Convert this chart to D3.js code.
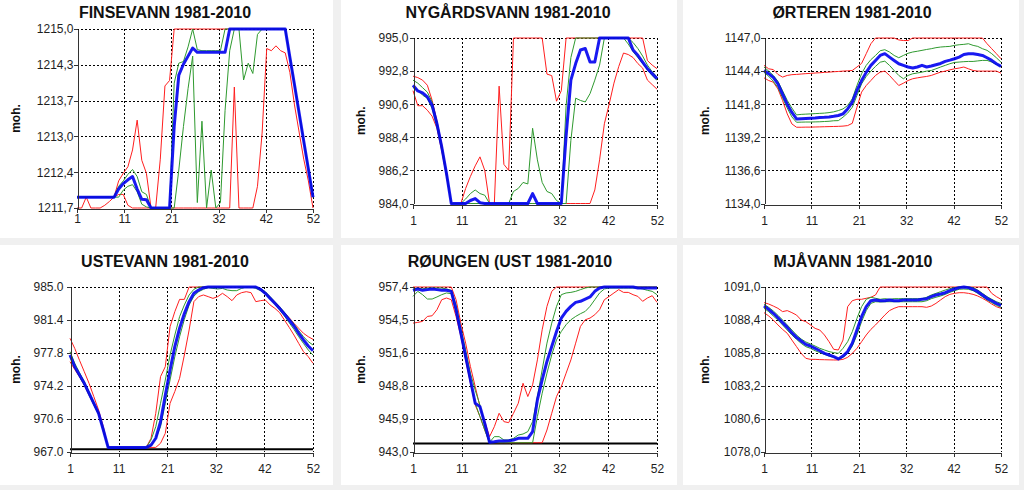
<!DOCTYPE html>
<html><head><meta charset="utf-8">
<script src="https://cdn.jsdelivr.net/npm/d3@7"></script>
<style>
html,body{margin:0;padding:0;background:#f0f0f0;}
svg{display:block;}
</style></head><body>
<svg id="c" width="1024" height="490"></svg>
<script>
// ---------- DATA ----------
const weeks = d3.range(1, 53);
const xTickValues = [1, 11.2, 21.4, 31.6, 41.8, 52];
const xTickLabels = ["1", "11", "21", "32", "42", "52"];
const yAxisTitle = "moh.";
const titles = ["FINSEVANN 1981-2010", "NYGÅRDSVANN 1981-2010", "ØRTEREN 1981-2010",
                "USTEVANN 1981-2010", "RØUNGEN (UST 1981-2010", "MJÅVANN 1981-2010"];

// y ticks per chart
const finsevannYTicks = [1211.7, 1212.36, 1213.02, 1213.68, 1214.34, 1215.0];
const finsevannYLabels = ["1211,7", "1212,4", "1213,0", "1213,7", "1214,3", "1215,0"];
const nygardsvannYTicks = [984.0, 986.2, 988.4, 990.6, 992.8, 995.0];
const nygardsvannYLabels = ["984,0", "986,2", "988,4", "990,6", "992,8", "995,0"];
const orterenYTicks = [1134.0, 1136.6, 1139.2, 1141.8, 1144.4, 1147.0];
const orterenYLabels = ["1134,0", "1136,6", "1139,2", "1141,8", "1144,4", "1147,0"];
const ustevannYTicks = [967.0, 970.6, 974.2, 977.8, 981.4, 985.0];
const ustevannYLabels = ["967.0", "970.6", "974.2", "977.8", "981.4", "985.0"];
const roungenYTicks = [943.0, 945.88, 948.76, 951.64, 954.52, 957.4];
const roungenYLabels = ["943,0", "945,9", "948,8", "951,6", "954,5", "957,4"];
const mjavannYTicks = [1078.0, 1080.6, 1083.2, 1085.8, 1088.4, 1091.0];
const mjavannYLabels = ["1078,0", "1080,6", "1083,2", "1085,8", "1088,4", "1091,0"];

// reference (black) lines
const ustevannRef = 967.3;
const roungenRef = 943.75;

// FINSEVANN
const finsevannMax = [1211.9,1211.9,1211.9,1211.9,1211.9,1211.9,1211.9,1211.9,1211.9,1212.2,1212.34,1212.46,1212.77,
 1213.32,1212.58,1212.34,1211.7,1211.7,1212.6,1213.95,1214.05,1215,1215,1215,1215,1215,
 1215,1215,1215,1215,1215,1215,1215,1215,1215,1215,1215,1215,1215,
 1215,1215,1215,1215,1215,1215,1215,1214.48,1213.97,1213.45,1212.93,1212.42,1211.9];
const finsevannP75 = [1211.9,1211.9,1211.9,1211.9,1211.9,1211.9,1211.9,1211.9,1211.9,1212.1,1212.2,1212.32,1212.41,
 1212.28,1212.0,1211.95,1211.7,1211.7,1211.7,1211.7,1211.7,1214.0,1214.37,1214.4,1214.67,1215,
 1214.62,1214.6,1214.6,1214.6,1214.6,1214.6,1215,1215,1215,1215,1215,1215,1215,
 1215,1215,1215,1215,1215,1215,1215,1214.48,1213.97,1213.45,1212.93,1212.42,1211.9];
const finsevannMedian = [1211.9,1211.9,1211.9,1211.9,1211.9,1211.9,1211.9,1211.9,1211.9,1212.05,1212.15,1212.22,1212.28,
 1212.05,1211.86,1211.85,1211.7,1211.7,1211.7,1211.7,1211.7,1213.2,1214.15,1214.35,1214.5,1214.65,
 1214.57,1214.57,1214.57,1214.57,1214.57,1214.57,1214.57,1215,1215,1215,1215,1215,1215,
 1215,1215,1215,1215,1215,1215,1215,1214.48,1213.97,1213.45,1212.93,1212.42,1211.9];
const finsevannP25 = [1211.9,1211.9,1211.9,1211.9,1211.9,1211.9,1211.9,1211.9,1211.9,1211.9,1212.03,1212.1,1212.13,
 1212.0,1211.77,1211.72,1211.7,1211.7,1211.7,1211.7,1211.7,1211.7,1212.4,1213.2,1213.9,1214.5,
 1211.8,1213.3,1211.7,1212.4,1211.7,1211.8,1213.5,1214.6,1215,1215,1214.06,1214.37,1214.18,
 1214.9,1215,1215,1215,1215,1215,1215,1214.48,1213.97,1213.45,1212.93,1212.42,1211.9];
const finsevannMin = [1211.7,1211.7,1211.9,1211.7,1211.7,1211.7,1211.75,1211.82,1211.9,1211.95,1211.95,1211.75,1211.7,
 1211.7,1211.7,1211.7,1211.7,1211.7,1211.7,1211.7,1211.7,1211.7,1211.7,1211.7,1211.7,1211.7,
 1211.7,1211.7,1211.7,1211.7,1211.7,1211.7,1211.7,1211.7,1213.93,1211.7,1211.7,1211.7,1211.7,
 1212.1,1213.08,1214.64,1214.6,1214.69,1214.6,1214.56,1214.2,1213.6,1213.1,1212.6,1212.2,1211.7];

// NYGÅRDSVANN
const nygardsvannMax = [992.46,992.37,992.2,991.86,990.86,989.5,987.95,986.1,984,984,984,985.0,985.8,
 986.5,987.1,986.2,984.0,984.0,991.8,986.6,986.2,995,995,995,995,995,
 995,995,992.6,992.5,990.8,991.5,995,995,995,995,995,995,995,
 995,995,995,995,995,995,995,995,995,995,993.5,993.2,992.96];
const nygardsvannP75 = [992.2,992.0,991.7,991.4,990.75,989.4,987.8,986.1,984,984,984,984.3,984.66,
 984.9,984.66,984.55,984,984,984,984,984,984.8,985.0,985.4,985.3,989.0,
 986.9,985.4,984.8,984.66,984.2,984.0,990.5,993.7,995,995,995,995,995,
 995,995,995,995,995,995,995,994.7,994.3,993.8,993.2,992.75,992.4];
const nygardsvannMedian = [991.86,991.48,991.35,991.08,990.53,989.31,987.77,985.99,984,984,984,984,984.2,
 984.33,984.05,984,984,984,984,984,984,984,984,984,984,984.66,
 984,984,984,984,984,984,988.5,992.2,993.3,994.2,994.3,993.4,993.4,
 995,995,995,995,995,995,995,994.2,993.85,993.4,992.96,992.63,992.3];
const nygardsvannP25 = [991.7,991.55,991.2,991.0,990.3,989.1,987.6,985.9,984,984,984,984,984,
 984,984,984,984,984,984,984,984,984,984,984,984,984,
 984,984,984,984,984,984,984,988.2,991.0,990.85,990.75,991.3,992.2,
 993.2,995,995,995,995,995,994.6,994.1,993.7,993.3,992.9,992.5,992.2];
const nygardsvannMin = [991.5,990.5,990.5,990.2,989.8,989.0,987.5,985.8,984,984,984,984,984,
 984,984,984,984,984,984,984,984,984,984,984,984,984,
 984,984,984,984,984,984,984,984,984,984,984,984,984.9,
 986.9,989.3,990.6,992.0,993.1,994.0,993.9,993.7,993.3,993.0,992.2,991.9,991.6];

// ØRTEREN
const orterenMax = [1144.85,1144.58,1144.52,1144.14,1143.93,1144.06,1144.12,1144.14,1144.17,1144.2,1144.22,1144.25,1144.27,
 1144.3,1144.32,1144.35,1144.37,1144.4,1144.42,1144.45,1144.72,1145.0,1145.77,1146.55,1147,1147,
 1147,1147,1147,1146.85,1146.8,1146.8,1147,1147,1147,1147,1147,1147,1147,
 1147,1147,1147,1147,1147,1147,1147,1147,1147,1146.55,1146.16,1145.77,1145.37];
const orterenP75 = [1144.72,1144.4,1144.06,1143.6,1142.85,1142.1,1141.5,1140.96,1141.0,1141.02,1141.04,1141.06,1141.08,
 1141.1,1141.14,1141.2,1141.3,1141.43,1141.7,1142.22,1143.27,1144.2,1144.85,1145.3,1145.63,1146.0,
 1146.08,1145.9,1145.63,1145.45,1145.63,1145.8,1145.9,1145.96,1146.03,1146.1,1146.16,1146.24,1146.29,
 1146.32,1146.34,1146.42,1146.47,1146.5,1146.55,1146.42,1146.34,1146.16,1146.03,1145.77,1145.45,1145.1];
const orterenMedian = [1144.45,1144.2,1143.9,1143.4,1142.6,1141.8,1141.15,1140.64,1140.66,1140.68,1140.7,1140.72,1140.75,
 1140.77,1140.8,1140.85,1140.91,1141.04,1141.43,1141.96,1142.88,1143.66,1144.3,1144.85,1145.24,1145.63,
 1145.77,1145.5,1145.24,1144.98,1144.85,1144.72,1144.64,1144.72,1144.85,1144.72,1144.8,1144.9,1145.0,
 1145.16,1145.26,1145.37,1145.5,1145.7,1145.77,1145.77,1145.7,1145.63,1145.45,1145.24,1144.98,1144.77];
const orterenP25 = [1144.3,1144.0,1143.6,1143.1,1142.3,1141.5,1140.8,1140.38,1140.39,1140.4,1140.4,1140.41,1140.42,
 1140.44,1140.46,1140.5,1140.51,1140.78,1141.1,1141.56,1142.48,1143.4,1143.98,1144.4,1144.77,1145.1,
 1145.18,1144.85,1144.45,1144.06,1143.8,1144.06,1144.19,1144.25,1144.32,1144.4,1144.45,1144.58,1144.72,
 1144.85,1144.98,1145.08,1145.11,1145.14,1145.16,1145.16,1145.2,1145.24,1145.24,1145.11,1144.93,1144.77];
const orterenMin = [1143.87,1143.66,1143.53,1143.0,1142.09,1141.04,1140.25,1139.99,1139.99,1140.0,1140.0,1140.01,1140.02,
 1140.03,1140.04,1140.05,1140.06,1140.08,1140.12,1140.3,1141.56,1142.75,1143.27,1143.66,1144.06,1144.32,
 1144.4,1144.06,1143.66,1143.27,1143.45,1143.66,1143.8,1143.87,1143.93,1143.98,1144.06,1144.19,1144.32,
 1144.4,1144.5,1144.58,1144.64,1144.72,1144.58,1144.45,1144.4,1144.4,1144.4,1144.4,1144.4,1144.24];

// USTEVANN
const ustevannMax = [979.4,978.3,977.0,975.76,974.49,973.04,971.58,969.76,967.5,967.5,967.5,967.5,967.5,
 967.5,967.5,967.5,967.5,968.49,971.22,975.22,976.31,980.67,982.31,983.65,983.65,985,
 985,985,985,985,985,985,985,985,985,985,985,985,985,
 985,984.75,984.38,983.87,983.29,982.75,982.2,981.65,981.04,980.49,979.95,979.58,979.29];
const ustevannP75 = [977.95,976.67,975.65,974.67,973.58,972.42,971.29,969.47,967.5,967.5,967.5,967.5,967.5,
 967.5,967.5,967.5,967.5,968.31,969.76,972.31,974.85,977.58,979.76,981.76,983.04,984.13,
 984.75,985,985,985,985,985,985,985,985,985,985,985,985,
 985,984.82,984.49,983.95,983.4,982.85,982.24,981.58,980.96,980.24,979.58,979.04,978.67];
const ustevannMedian = [977.58,976.31,975.4,974.49,973.4,972.31,971.22,969.4,967.5,967.5,967.5,967.5,967.5,
 967.5,967.5,967.5,967.5,967.75,968.5,970.3,973.2,975.95,978.5,980.5,982.1,983.4,
 984.31,984.67,984.93,985,985,985,985,985,985,985,985,985,985,
 985,984.75,984.31,983.76,983.22,982.67,982.05,981.4,980.75,979.95,979.22,978.56,978.05];
const ustevannP25 = [977.4,976.16,975.22,974.31,973.22,972.13,971.11,969.33,967.5,967.5,967.5,967.5,967.5,
 967.5,967.5,967.5,967.5,967.65,968.49,969.76,972.31,974.85,977.4,979.58,981.47,983.04,
 984.0,984.49,984.75,984.93,984.85,984.78,984.85,984.67,984.6,984.6,984.85,985,985,
 984.85,984.6,984.24,983.7,983.11,982.49,981.84,981.11,980.38,979.58,978.85,978.13,977.58];
const ustevannMin = [976.85,976.0,975.2,974.3,973.2,972.2,971.1,969.2,967.5,967.5,967.5,967.5,967.5,
 967.5,967.5,967.5,967.5,967.5,967.5,967.95,969.04,972.31,973.6,975.04,977.58,980.31,
 983.4,983.95,984.13,983.95,983.76,983.95,984.31,983.95,983.51,984.13,984.38,984.49,984.38,
 983.4,983.51,983.58,983.04,982.67,982.2,981.4,980.6,979.76,978.85,977.95,977.4,976.67];

// RØUNGEN
const roungenMax = [957.4,957.4,957.4,957.4,957.4,957.4,957.4,957.4,957.4,956.29,954.25,952.5,950.46,
 948.71,946.96,945.65,944.34,945.21,946.38,945.65,945.56,946.38,947.25,949.0,947.84,948.86,
 951.04,953.67,955.71,957.02,957.4,957.4,957.4,957.4,957.4,957.4,957.4,957.4,957.4,
 957.4,957.4,957.4,957.4,957.4,957.4,957.4,957.4,957.4,957.4,957.4,957.4,957.4];
const roungenP75 = [957.23,957.31,957.23,957.31,957.31,957.31,957.31,957.23,957.11,955.85,953.81,951.92,949.88,
 948.4,947.1,945.21,943.85,944.34,944.34,944.05,944.05,944.19,944.48,944.57,944.78,945.65,
 947.84,950.17,952.5,954.25,955.71,956.73,956.88,956.93,957.02,957.17,957.31,957.4,957.4,
 957.4,957.4,957.4,957.4,957.4,957.4,957.4,957.4,957.4,957.4,957.4,957.4,957.4];
const roungenMedian = [957.11,957.23,957.11,957.17,957.23,957.17,957.11,957.11,957.02,955.42,953.38,951.34,949.3,
 947.25,946.96,945.5,943.85,943.9,943.96,943.96,943.99,944.05,944.19,944.19,944.19,944.78,
 947.55,949.3,950.9,952.21,953.52,954.69,955.27,955.71,956.06,956.15,956.35,956.53,957.02,
 957.31,957.4,957.4,957.4,957.4,957.4,957.4,957.4,957.31,957.31,957.31,957.31,957.31];
const roungenP25 = [956.58,957.02,956.73,956.35,956.35,956.53,956.73,956.88,956.82,955.27,953.23,951.19,949.15,
 947.25,946.09,944.92,943.81,943.81,943.81,943.81,943.81,943.81,943.81,943.81,943.81,943.81,
 946.09,948.13,949.88,951.48,952.79,953.52,954.11,954.54,954.83,955.07,955.27,955.71,956.29,
 956.88,957.23,957.31,957.31,957.31,957.31,957.31,957.31,957.31,957.23,957.11,957.02,956.73];
const roungenMin = [954.25,954.31,954.4,954.83,954.89,955.42,956.29,956.44,956.29,954.83,953.09,951.04,949.0,
 947.11,946.09,944.92,943.81,943.81,943.81,943.81,943.81,943.81,943.81,943.81,943.81,943.81,
 943.81,943.81,944.92,946.38,947.84,948.71,949.88,951.04,952.5,953.96,954.54,954.69,954.98,
 955.42,956.29,956.58,956.88,957.17,956.93,956.93,956.73,956.58,956.15,956.44,956.64,956.06];

// MJÅVANN
const mjavannMax = [1089.77,1089.66,1089.5,1089.32,1089.06,1089.14,1088.98,1088.79,1088.4,1088.27,1088.01,1087.74,1087.61,
 1087.22,1086.69,1086.09,1086.04,1086.82,1089.45,1089.92,1090.03,1090.03,1090.11,1090.19,1090.37,1091,
 1091,1091,1091,1091,1091,1091,1091,1091,1091,1091,1091,1091,1091,
 1091,1091,1091,1091,1091,1091,1091,1091,1091,1091,1090.5,1090.24,1090.03];
const mjavannP75 = [1089.63,1089.4,1089.11,1088.77,1088.4,1088.01,1087.61,1087.22,1086.9,1086.67,1086.51,1086.35,1086.17,
 1086.04,1085.91,1085.83,1085.77,1086.17,1086.69,1087.48,1088.53,1089.45,1090.03,1090.19,1090.11,1090.03,
 1090.08,1090.03,1090.08,1090.08,1090.08,1090.08,1090.08,1090.08,1090.08,1090.19,1090.37,1090.5,1090.63,
 1090.76,1090.87,1090.95,1091,1091,1091,1090.95,1090.76,1090.5,1090.24,1090.03,1089.84,1089.71];
const mjavannMedian = [1089.5,1089.24,1088.93,1088.58,1088.19,1087.82,1087.4,1087.03,1086.75,1086.48,1086.35,1086.17,1085.98,
 1085.77,1085.64,1085.51,1085.33,1085.56,1085.91,1086.56,1087.61,1088.66,1089.45,1089.92,1089.98,1089.92,
 1089.92,1089.98,1089.92,1089.92,1089.98,1089.98,1089.98,1089.98,1090.03,1090.08,1090.24,1090.37,1090.45,
 1090.55,1090.71,1090.84,1090.95,1091.0,1090.95,1090.82,1090.63,1090.37,1090.11,1089.92,1089.71,1089.56];
const mjavannP25 = [1089.32,1089.06,1088.72,1088.4,1088.01,1087.61,1087.22,1086.88,1086.56,1086.3,1086.17,1085.98,1085.83,
 1085.7,1085.56,1085.46,1085.33,1085.46,1085.77,1086.35,1087.22,1088.27,1089.14,1089.71,1089.84,1089.82,
 1089.84,1089.84,1089.84,1089.84,1089.84,1089.84,1089.84,1089.84,1089.84,1089.92,1090.08,1090.19,1090.29,
 1090.42,1090.58,1090.71,1090.82,1090.84,1090.82,1090.71,1090.5,1090.24,1089.98,1089.77,1089.56,1089.4];
const mjavannMin = [1088.98,1088.72,1088.4,1088.01,1087.66,1087.35,1086.82,1086.3,1085.77,1085.38,1085.3,1085.3,1085.28,
 1085.27,1085.26,1085.25,1085.25,1085.3,1085.46,1085.77,1086.17,1086.69,1087.22,1087.66,1088.01,1088.4,
 1088.79,1089.14,1089.32,1089.45,1089.45,1089.45,1089.45,1089.45,1089.45,1089.4,1089.5,1089.71,1089.98,
 1090.24,1090.42,1090.5,1090.55,1090.55,1090.5,1090.42,1090.29,1090.11,1089.9,1089.66,1089.45,1089.32];

// ---------- CHART ASSEMBLY ----------
const charts = [
  {title: titles[0], yTicks: finsevannYTicks, yLabels: finsevannYLabels, ref: null,
   series: [finsevannMax, finsevannMin, finsevannP75, finsevannP25, finsevannMedian]},
  {title: titles[1], yTicks: nygardsvannYTicks, yLabels: nygardsvannYLabels, ref: null,
   series: [nygardsvannMax, nygardsvannMin, nygardsvannP75, nygardsvannP25, nygardsvannMedian]},
  {title: titles[2], yTicks: orterenYTicks, yLabels: orterenYLabels, ref: null,
   series: [orterenMax, orterenMin, orterenP75, orterenP25, orterenMedian]},
  {title: titles[3], yTicks: ustevannYTicks, yLabels: ustevannYLabels, ref: ustevannRef,
   series: [ustevannMax, ustevannMin, ustevannP75, ustevannP25, ustevannMedian]},
  {title: titles[4], yTicks: roungenYTicks, yLabels: roungenYLabels, ref: roungenRef,
   series: [roungenMax, roungenMin, roungenP75, roungenP25, roungenMedian]},
  {title: titles[5], yTicks: mjavannYTicks, yLabels: mjavannYLabels, ref: null,
   series: [mjavannMax, mjavannMin, mjavannP75, mjavannP25, mjavannMedian]}
];

// layout (positions only)
const layout = [
  {bx: 0,   by: 0,   bw: 333, bh: 238, l: 77,  r: 313,  t: 29,  b: 208,   tx: 165, ty: 18,  ax: 20,  ygap: 4, xgap: 14.5},
  {bx: 341, by: 0,   bw: 336, bh: 238, l: 413, r: 657,  t: 38,  b: 203.5, tx: 508, ty: 18,  ax: 365, ygap: 5, xgap: 20},
  {bx: 683, by: 0,   bw: 336, bh: 238, l: 764, r: 1001, t: 38,  b: 203.5, tx: 852, ty: 18,  ax: 709, ygap: 4, xgap: 20},
  {bx: 0,   by: 245, bw: 333, bh: 240, l: 70,  r: 313,  t: 287, b: 452,   tx: 165, ty: 267, ax: 20,  ygap: 7, xgap: 20},
  {bx: 341, by: 245, bw: 336, bh: 240, l: 413, r: 657,  t: 287, b: 452,   tx: 510, ty: 267, ax: 365, ygap: 5, xgap: 20},
  {bx: 683, by: 245, bw: 336, bh: 240, l: 764, r: 1001, t: 287, b: 452,   tx: 853, ty: 267, ax: 709, ygap: 4, xgap: 20}
];

const styles = [
  {color: "#ff1f1f", width: 1, opacity: 1},
  {color: "#ff1f1f", width: 1, opacity: 1},
  {color: "#2f9a2f", width: 1, opacity: 1},
  {color: "#2f9a2f", width: 1, opacity: 1},
  {color: "#0000f0", width: 3, opacity: 0.9}
];

const FONT = "'Liberation Sans', Arial, sans-serif";
const svg = d3.select("#c");
svg.append("rect").attr("width", 1024).attr("height", 490).attr("fill", "#f0f0f0");

charts.forEach((c, i) => {
  const L = layout[i];
  const g = svg.append("g");
  g.append("rect").attr("x", L.bx).attr("y", L.by).attr("width", L.bw).attr("height", L.bh).attr("fill", "#fff");

  const x = d3.scaleLinear().domain([1, 52]).range([L.l, L.r]);
  const y = d3.scaleLinear().domain([c.yTicks[0], c.yTicks[c.yTicks.length - 1]]).range([L.b, L.t]);

  // grid (dashed), incl. top and right borders
  const grid = g.append("g").attr("stroke", "#000").attr("stroke-width", 1)
    .attr("stroke-dasharray", "2,2").attr("shape-rendering", "crispEdges");
  c.yTicks.slice(1).forEach(v => {
    const yy = Math.round(y(v)) + 0.5;
    grid.append("line").attr("x1", L.l).attr("x2", L.r).attr("y1", yy).attr("y2", yy);
  });
  xTickValues.slice(1).forEach(v => {
    const xx = Math.round(x(v)) + 0.5;
    grid.append("line").attr("x1", xx).attr("x2", xx).attr("y1", L.t).attr("y2", L.b);
  });

  // reference line
  if (c.ref !== null) {
    g.append("line").attr("x1", L.l).attr("x2", L.r).attr("y1", y(c.ref)).attr("y2", y(c.ref))
      .attr("stroke", "#000").attr("stroke-width", 2);
  }

  // data lines
  const line = d3.line().x((d, k) => x(weeks[k])).y(d => y(d));
  c.series.forEach((s, k) => {
    const st = styles[k];
    g.append("path").datum(s).attr("d", line).attr("fill", "none")
      .attr("stroke", st.color).attr("stroke-width", st.width)
      .attr("stroke-opacity", st.opacity).attr("stroke-linejoin", "round");
  });

  // axes
  const yAxis = d3.axisLeft(y).tickValues(c.yTicks)
    .tickFormat((d, k) => c.yLabels[k]).tickSize(4).tickSizeOuter(0).tickPadding(L.ygap - 4);
  const ya = g.append("g").attr("transform", `translate(${Math.round(L.l) + 0.5},0)`).call(yAxis);
  const xAxis = d3.axisBottom(x).tickValues(xTickValues)
    .tickFormat((d, k) => xTickLabels[k]).tickSize(4).tickSizeOuter(0).tickPadding(L.xgap - 4 - 8.5);
  const xa = g.append("g").attr("transform", `translate(0,${Math.round(L.b) + 0.5})`).call(xAxis);
  [ya, xa].forEach(a => {
    a.attr("font-size", 12).attr("font-family", FONT);
    a.selectAll("path,line").attr("stroke", "#333").attr("shape-rendering", "crispEdges");
    a.selectAll("text").attr("fill", "#1e1e1e");
  });

  // title
  g.append("text").attr("x", L.tx).attr("y", L.ty).attr("text-anchor", "middle")
    .attr("font-family", FONT).attr("font-size", 16).attr("font-weight", "bold")
    .attr("fill", "#111").text(c.title);

  // y axis title
  const cy = (L.t + L.b) / 2;
  g.append("text").attr("transform", `translate(${L.ax},${cy}) rotate(-90)`)
    .attr("text-anchor", "middle").attr("font-family", FONT).attr("font-size", 12)
    .attr("font-weight", "bold").attr("fill", "#111").text(yAxisTitle);
});
</script>
</body></html>
